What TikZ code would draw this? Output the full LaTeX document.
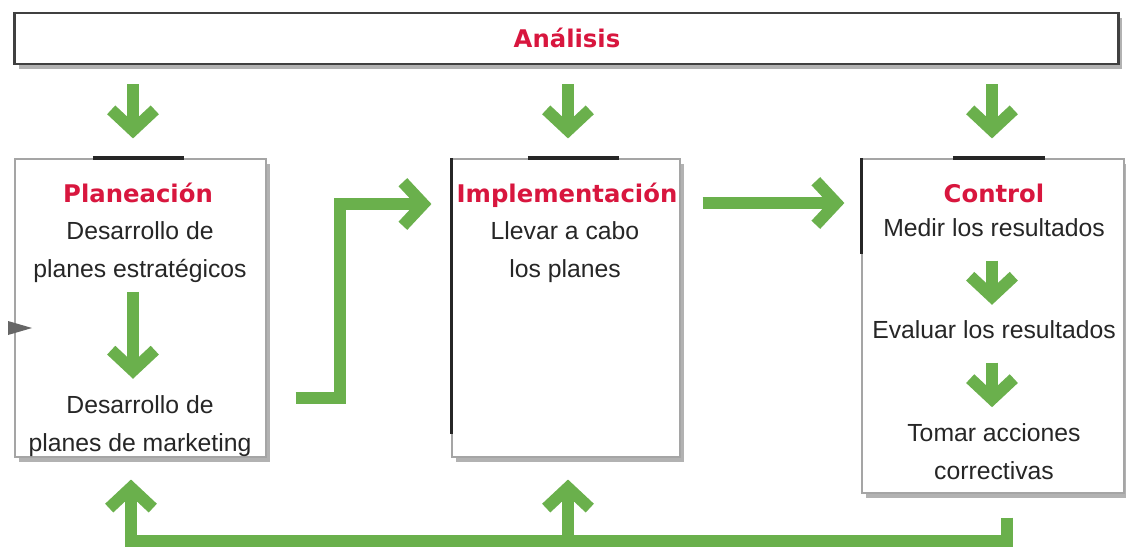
\documentclass[tikz,border=0pt]{standalone}
\usepackage{fontspec}
\setmainfont{Liberation Sans}
\newfontfamily\headfont{DejaVu Sans}
\usetikzlibrary{arrows.meta,shadows}
\definecolor{verde}{RGB}{106,176,76}
\definecolor{rojo}{RGB}{216,22,62}
\definecolor{borde}{RGB}{165,165,165}
\tikzset{
  caja/.style={draw=borde, line width=0.8pt, fill=white, inner sep=0pt,
    drop shadow={shadow xshift=3pt, shadow yshift=-3.5pt, opacity=.3, fill=black}},
  titulo/.style={text=rojo, inner sep=0pt, font=\headfont\bfseries\fontsize{17.3}{20}\selectfont},
  texto/.style={text=black!85, align=center, inner sep=0pt, font=\fontsize{17.6}{27}\selectfont},
  flecha/.style={draw=verde, line width=8.8pt, -{Straight Barb[length=14.5pt,width=31pt,line width=8.5pt]}},
  barra/.style={draw=black!85, line width=2.8pt},
}
\begin{document}
\begin{tikzpicture}[x=0.025cm, y=-0.025cm]
\useasboundingbox[fill=white] (0,0) rectangle (1126,552);
\node  (ana) at (566.5,38.5) [caja, draw=black!75, line width=2pt, minimum width=27.575cm, minimum height=1.275cm] {};
\node (plan) at (140.5,308) [caja, minimum width=6.275cm, minimum height=7.45cm] {};
\node (impl) at (566,308)   [caja, minimum width=5.7cm, minimum height=7.45cm] {};
\node (ctrl) at (993,326)   [caja, minimum width=6.55cm, minimum height=8.35cm] {};
\draw [barra] ([xshift=-1.19cm]plan.north) -- ([xshift=1.09cm]plan.north);
\draw [barra] ([xshift=-0.95cm]impl.north) -- ([xshift=1.325cm]impl.north);
\draw [barra] ([xshift=-1cm]ctrl.north) -- ([xshift=1.3cm]ctrl.north);
\draw [barra, line width=2pt] (impl.north west) -- ++(0,276);
\draw [barra, line width=2pt] (ctrl.north west) -- ++(0,96);
\fill [black!60] (8,321) -- (32,328) -- (8,335) -- cycle;
\node (ta) at (567,47)  [titulo, anchor=base] {Análisis};
\node (tp) at (138,202) [titulo, anchor=base] {Planeación};
\node (ti) at (567,202) [titulo, anchor=base] {Implementación};
\node (tc) at (994,202) [titulo, anchor=base] {Control};
\node (pa) at (140,252) [texto] {Desarrollo de\\planes estratégicos};
\node (pb) at (140,426) [texto] {Desarrollo de\\planes de marketing};
\node (ia) at (565,252) [texto] {Llevar a cabo\\los planes};
\node (m1) at (994,236.5) [texto, anchor=base] {Medir los resultados};
\node (m2) at (994,338.5) [texto, anchor=base] {Evaluar los resultados};
\node (m3) at (994,452) [texto] {Tomar acciones\\correctivas};
\coordinate (c1) at (133,0);
\coordinate (c2) at (568,0);
\coordinate (c3) at (992,0);
\coordinate (e1) at (0,398);
\coordinate (e2) at (340,204);
\coordinate (e3) at (0,203);
\coordinate (r1) at (1007,0);
\coordinate (r2) at (131,541);
\coordinate (r3) at (568,541);
\draw [flecha, shorten <=13.5pt, shorten >=14.2pt] (ana.south -| c1) -- (plan.north -| c1);
\draw [flecha, shorten <=13.5pt, shorten >=14.2pt] (ana.south -| c2) -- (impl.north -| c2);
\draw [flecha, shorten <=13.5pt, shorten >=14.2pt] (ana.south -| c3) -- (ctrl.north -| c3);
\draw [flecha, shorten <=6.4pt, shorten >=11.7pt] (pa.south -| c1) -- (pb.north -| c1);
\draw [flecha, shorten <=16.7pt, shorten >=11pt] (m1.south -| c3) -- (m2.north -| c3);
\draw [flecha, shorten <=16.7pt, shorten >=11.7pt] (m2.south -| c3) -- (m3.north -| c3);
\draw [flecha, shorten <=20.6pt, shorten >=14.2pt] (plan.east |- e1) -| (e2) -- (impl.west |- e2);
\draw [flecha, shorten <=15.6pt, shorten >=12.1pt] (impl.east |- e3) -- (ctrl.west |- e3);
\draw [flecha, shorten <=17pt, shorten >=15.6pt] (ctrl.south -| r1) |- (r2) -- (plan.south -| r2);
\draw [flecha, shorten >=15.6pt] (r3) -- (impl.south -| r3);
\end{tikzpicture}
\end{document}
